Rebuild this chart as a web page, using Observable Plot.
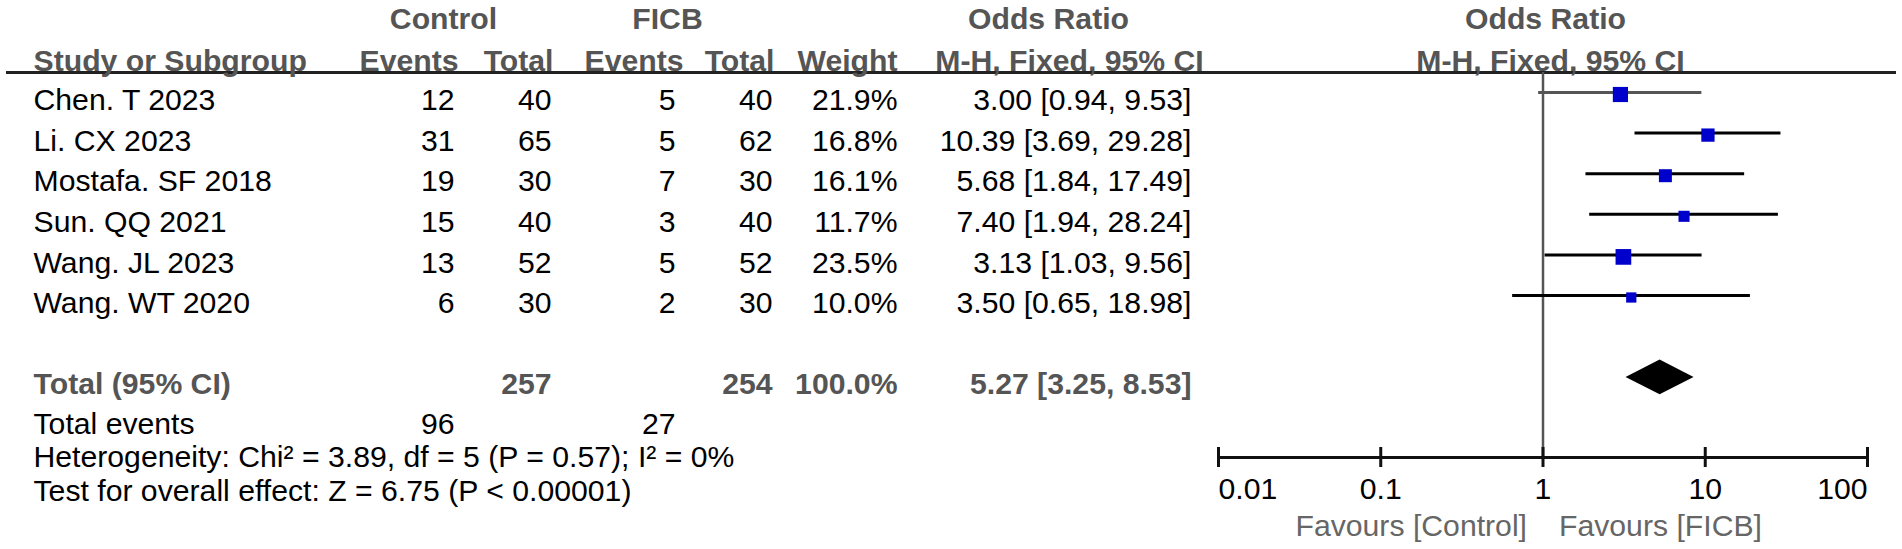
<!DOCTYPE html>
<html>
<head>
<meta charset="utf-8">
<script src="https://cdn.jsdelivr.net/npm/d3@7"></script>
<script src="https://cdn.jsdelivr.net/npm/@observablehq/plot@0.6"></script>
<style>
  html, body { margin: 0; padding: 0; background: #ffffff; }
  #chart svg { display: block; }
</style>
</head>
<body>
<div id="chart"></div>
<script>
// ---------- data ----------
const studies     = ["Chen. T 2023", "Li. CX 2023", "Mostafa. SF 2018", "Sun. QQ 2021", "Wang. JL 2023", "Wang. WT 2020"];
const ctrlEvents  = [12, 31, 19, 15, 13, 6];
const ctrlTotal   = [40, 65, 30, 40, 52, 30];
const ficbEvents  = [5, 5, 7, 3, 5, 2];
const ficbTotal   = [40, 62, 30, 40, 52, 30];
const weights     = [21.9, 16.8, 16.1, 11.7, 23.5, 10.0];
const oddsRatio   = [3.00, 10.39, 5.68, 7.40, 3.13, 3.50];
const ciLower     = [0.94, 3.69, 1.84, 1.94, 1.03, 0.65];
const ciUpper     = [9.53, 29.28, 17.49, 28.24, 9.56, 18.98];

const totalLabel      = "Total (95% CI)";
const totalCtrl       = 257;
const totalFicb       = 254;
const totalWeight     = 100.0;
const totalOR         = 5.27;
const totalLower      = 3.25;
const totalUpper      = 8.53;
const eventsLabel     = "Total events";
const eventsCtrl      = 96;
const eventsFicb      = 27;
const heterogeneity   = "Heterogeneity: Chi² = 3.89, df = 5 (P = 0.57); I² = 0%";
const overallEffect   = "Test for overall effect: Z = 6.75 (P < 0.00001)";

const groupHeaders    = ["Control", "FICB", "Odds Ratio", "Odds Ratio"];
const columnHeaders   = ["Study or Subgroup", "Events", "Total", "Events", "Total", "Weight", "M-H, Fixed, 95% CI", "M-H, Fixed, 95% CI"];
const axisTicks       = [0.01, 0.1, 1, 10, 100];
const favoursLabels   = ["Favours [Control]", "Favours [FICB]"];

// ---------- table built from the arrays ----------
const rows = studies.map((s, i) => ({
  study: s, row: i,
  ce: ctrlEvents[i], ct: ctrlTotal[i], fe: ficbEvents[i], ft: ficbTotal[i],
  w: weights[i], or: oddsRatio[i], lo: ciLower[i], hi: ciUpper[i],
  wLabel: weights[i].toFixed(1) + "%",
  orLabel: `${oddsRatio[i].toFixed(2)} [${ciLower[i].toFixed(2)}, ${ciUpper[i].toFixed(2)}]`
}));

// ---------- layout (rows in study-row units) ----------
const ROW = {
  header1: -1.99, header2: -0.97, rule: -0.69,
  total: 6.99, diamond: 6.82, events: 7.97, het: 8.80, test: 9.62,
  axis: 8.793, tickLo: 8.547, tickHi: 9.039, tickLabel: 9.581, favours: 10.493
};
const COL = { study: 33, ce: 454, ct: 551, fe: 675, ft: 772, w: 897, or: 1191 };
const HDR = { control: 443, ficb: 667, orMid: 1048, orRight: 1545, mhMid: 1069, mhRight: 1550,
              ce: 458, ct: 553, fe: 683, ft: 774, w: 897 };
const FONT = "'Liberation Sans', Arial, Helvetica, sans-serif";
const FS = 30.2;
const GRAY = "#555555";
const DIAMOND_HALF = 0.43;

const label = (text, row, dx, anchor, extra = {}) =>
  Plot.text([text], { text: d => d, y: () => row, frameAnchor: "left", dx, textAnchor: anchor,
                      fontSize: FS, fill: "#000", ...extra });
const col = (field, dx, anchor, extra = {}) =>
  Plot.text(rows, { text: field, y: "row", frameAnchor: "left", dx, textAnchor: anchor,
                    fontSize: FS, fill: "#000", ...extra });
const bold = { fontWeight: "bold", fill: GRAY };

const diamond = [
  { x: totalLower, y1: ROW.diamond, y2: ROW.diamond },
  { x: totalOR,    y1: ROW.diamond - DIAMOND_HALF, y2: ROW.diamond + DIAMOND_HALF },
  { x: totalUpper, y1: ROW.diamond, y2: ROW.diamond }
];

const chart = Plot.plot({
  width: 1902,
  height: 549,
  margin: 0,
  style: { fontFamily: FONT, background: "#ffffff", overflow: "visible" },
  x: { type: "log", domain: [0.01, 100], range: [1218, 1867], axis: null },
  y: { domain: [0, 5], range: [100, 303], axis: null },
  r: { type: "sqrt", domain: [0, 23.5], range: [0, 8.86] },
  marks: [
    // header rule
    Plot.ruleY([ROW.rule], { stroke: "#222", strokeWidth: 3, insetLeft: 6, insetRight: 6 }),
    // group headers
    label(groupHeaders[0], ROW.header1, HDR.control, "middle", bold),
    label(groupHeaders[1], ROW.header1, HDR.ficb, "middle", bold),
    label(groupHeaders[2], ROW.header1, HDR.orMid, "middle", bold),
    label(groupHeaders[3], ROW.header1, HDR.orRight, "middle", bold),
    // column headers
    label(columnHeaders[0], ROW.header2, COL.study, "start", bold),
    label(columnHeaders[1], ROW.header2, HDR.ce, "end", bold),
    label(columnHeaders[2], ROW.header2, HDR.ct, "end", bold),
    label(columnHeaders[3], ROW.header2, HDR.fe, "end", bold),
    label(columnHeaders[4], ROW.header2, HDR.ft, "end", bold),
    label(columnHeaders[5], ROW.header2, HDR.w, "end", bold),
    label(columnHeaders[6], ROW.header2, HDR.mhMid, "middle", bold),
    label(columnHeaders[7], ROW.header2, HDR.mhRight, "middle", bold),
    // study rows
    col("study", COL.study, "start"),
    col("ce", COL.ce, "end"),
    col("ct", COL.ct, "end"),
    col("fe", COL.fe, "end"),
    col("ft", COL.ft, "end"),
    col("wLabel", COL.w, "end"),
    col("orLabel", COL.or, "end"),
    // total row
    label(totalLabel, ROW.total, COL.study, "start", bold),
    label(String(totalCtrl), ROW.total, COL.ct, "end", bold),
    label(String(totalFicb), ROW.total, COL.ft, "end", bold),
    label(totalWeight.toFixed(1) + "%", ROW.total, COL.w, "end", bold),
    label(`${totalOR.toFixed(2)} [${totalLower.toFixed(2)}, ${totalUpper.toFixed(2)}]`, ROW.total, COL.or, "end", bold),
    // total events & stats
    label(eventsLabel, ROW.events, COL.study, "start"),
    label(String(eventsCtrl), ROW.events, COL.ce, "end"),
    label(String(eventsFicb), ROW.events, COL.fe, "end"),
    label(heterogeneity, ROW.het, COL.study, "start"),
    label(overallEffect, ROW.test, COL.study, "start"),
    // line of no effect
    Plot.ruleX([1], { y1: ROW.rule, y2: ROW.axis, stroke: GRAY, strokeWidth: 2.5 }),
    // confidence intervals
    Plot.ruleY(rows, { y: "row", x1: "lo", x2: "hi", dy: -8, strokeWidth: 3,
                       stroke: d => d.row === 0 ? GRAY : "#000" }),
    // point estimates
    Plot.dot(rows, { x: "or", y: "row", r: "w", symbol: "square", fill: "#0000cc", stroke: "none", dy: -6 }),
    // pooled diamond
    Plot.areaY(diamond, { x: "x", y1: "y1", y2: "y2", fill: "#000", curve: "linear" }),
    // axis
    Plot.ruleY([ROW.axis], { x1: () => axisTicks[0], x2: () => axisTicks[axisTicks.length - 1], stroke: "#111", strokeWidth: 3 }),
    Plot.ruleX(axisTicks, { x: d => d, y1: () => ROW.tickLo, y2: () => ROW.tickHi, stroke: "#111", strokeWidth: 3 }),
    Plot.text(axisTicks.slice(0, 1), { x: d => d, y: () => ROW.tickLabel, text: d => String(d), textAnchor: "start", fontSize: FS, fill: "#000" }),
    Plot.text(axisTicks.slice(1, -1), { x: d => d, y: () => ROW.tickLabel, text: d => String(d), textAnchor: "middle", fontSize: FS, fill: "#000" }),
    Plot.text(axisTicks.slice(-1), { x: d => d, y: () => ROW.tickLabel, text: d => String(d), textAnchor: "end", fontSize: FS, fill: "#000" }),
    Plot.text([favoursLabels[0]], { x: () => 1, y: () => ROW.favours, text: d => d, textAnchor: "end", dx: -16, fontSize: FS, fill: "#666" }),
    Plot.text([favoursLabels[1]], { x: () => 1, y: () => ROW.favours, text: d => d, textAnchor: "start", dx: 16, fontSize: FS, fill: "#666" })
  ]
});

document.getElementById("chart").appendChild(chart);
</script>
</body>
</html>
